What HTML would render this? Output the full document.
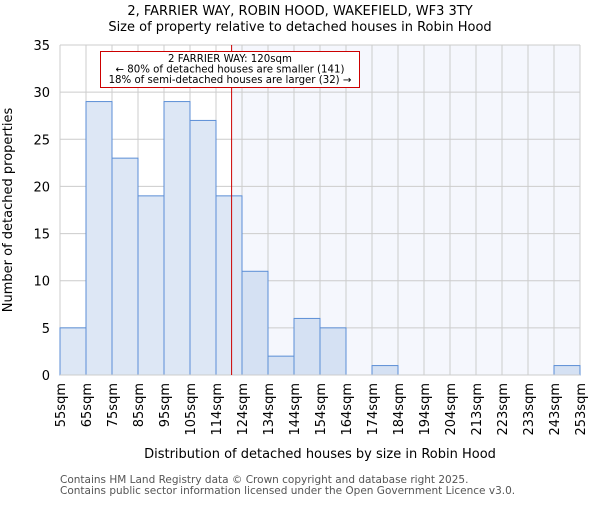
<!DOCTYPE html>
<html><head><meta charset="utf-8"><style>
body{margin:0;background:#fff;}
text{font-family:"DejaVu Sans","Liberation Sans",sans-serif;}
</style></head><body>
<svg id="chart" width="600" height="500" xmlns="http://www.w3.org/2000/svg">
<text x="300" y="15" text-anchor="middle" font-size="13">2, FARRIER WAY, ROBIN HOOD, WAKEFIELD, WF3 3TY</text>
<text x="300" y="31" text-anchor="middle" font-size="13">Size of property relative to detached houses in Robin Hood</text>
<g id="plot"></g>
<text x="320" y="458" text-anchor="middle" font-size="13">Distribution of detached houses by size in Robin Hood</text>
<text transform="translate(12,210) rotate(-90)" text-anchor="middle" font-size="13">Number of detached properties</text>
<text x="60" y="483" font-size="10.5" fill="#555">Contains HM Land Registry data © Crown copyright and database right 2025.</text>
<text x="60" y="494" font-size="10.5" fill="#555">Contains public sector information licensed under the Open Government Licence v3.0.</text>
</svg>
<script>
const labels=["55sqm","65sqm","75sqm","85sqm","95sqm","105sqm","114sqm","124sqm","134sqm","144sqm","154sqm","164sqm","174sqm","184sqm","194sqm","204sqm","213sqm","223sqm","233sqm","243sqm","253sqm"];
const counts=[5,29,23,19,29,27,19,11,2,6,5,0,1,0,0,0,0,0,0,1];
const yTicks=[0,5,10,15,20,25,30,35];
const markerBin=6.6;
const NS="http://www.w3.org/2000/svg";
const g=document.getElementById('plot');
const x0=60,x1=580,yT=45,yB=375,yMax=35;
const bw=(x1-x0)/counts.length;
const xs=i=>x0+i*bw;
const ys=v=>yB-(v/yMax)*(yB-yT);
function mk(t,a){const e=document.createElementNS(NS,t);for(const k in a)e.setAttribute(k,a[k]);g.appendChild(e);return e;}
const mx=xs(markerBin);
let bg=mk('rect',{x:mx,y:yT,width:x1-mx,height:yB-yT,fill:'#f5f7fd'});


yTicks.forEach(t=>{
 let l=mk('line',{x1:x0,x2:x1,y1:ys(t),y2:ys(t),stroke:'#ccc'});
 
 
 let tx=mk('text',{x:50,y:ys(t)+5,'text-anchor':'end','font-size':13});
 tx.textContent=t;
 
 
});
labels.forEach((s,i)=>{
 let l=mk('line',{x1:xs(i),x2:xs(i),y1:yT,y2:yB,stroke:'#ccc'});
 
 
 let tx=mk('text',{transform:`translate(${xs(i)+5},${yB+8}) rotate(-90)`,'text-anchor':'end','font-size':13});
 tx.textContent=s;
 
 
});
counts.forEach((c,i)=>{
 if(c<=0)return;
 let r=mk('rect',{x:xs(i),y:ys(c),width:bw,height:yB-ys(c),fill:xs(i)>=mx?'#d5e1f3':'#dde7f5',stroke:'#5b8ed6','stroke-width':1});
 
 
});
let ax=mk('line',{x1:x0,x2:x1,y1:yB,y2:yB,stroke:'#ccc'});


let ml=mk('line',{x1:mx,x2:mx,y1:yT,y2:yB,stroke:'#c00','stroke-width':1});


let box=mk('rect',{x:100.5,y:51.5,width:259,height:36,fill:'#fff',stroke:'#c00'});


["2 FARRIER WAY: 120sqm","← 80% of detached houses are smaller (141)","18% of semi-detached houses are larger (32) →"].forEach((s,i)=>{
 let t=mk('text',{x:230,y:62+i*10.5,'text-anchor':'middle','font-size':10.2});
 t.textContent=s;
 
 
});
</script>
</body></html>
